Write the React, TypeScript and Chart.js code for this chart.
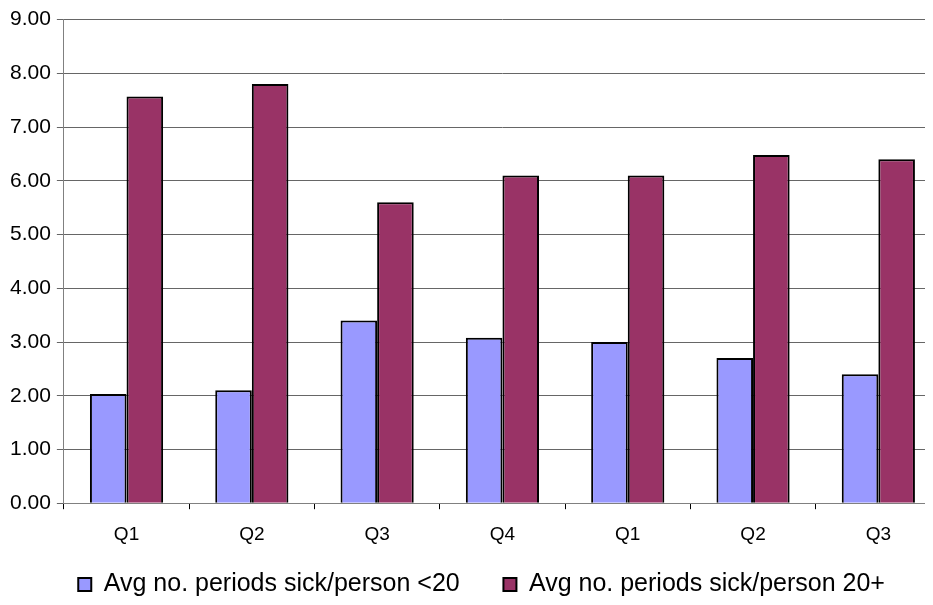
import React, { useEffect, useRef } from "react";
import { Chart, registerables } from "chart.js";

Chart.register(...registerables);

const categories = ["Q1", "Q2", "Q3", "Q4", "Q1", "Q2", "Q3"];
const under20 = [2.03, 2.1, 3.4, 3.08, 3.0, 2.7, 2.4];
const over20 = [7.57, 7.8, 5.6, 6.1, 6.1, 6.48, 6.4];
const seriesLabels = [
  "Avg no. periods sick/person <20",
  "Avg no. periods sick/person 20+",
];

const FONT = "'Liberation Sans', Arial, sans-serif";

export default function App() {
  const ref = useRef<HTMLCanvasElement | null>(null);

  useEffect(() => {
    document.body.style.overflow = "hidden";
    const ctx = ref.current;
    if (!ctx) return;
    const defaultGen = Chart.defaults.plugins.legend.labels.generateLabels;
    const chart = new Chart(ctx, {
      type: "bar",
      data: {
        labels: categories,
        datasets: [
          {
            label: seriesLabels[0],
            data: under20,
            backgroundColor: "#9999FF",
            borderColor: "#000000",
            borderWidth: 2,
            categoryPercentage: 0.584,
            barPercentage: 1,
          },
          {
            label: seriesLabels[1],
            data: over20,
            backgroundColor: "#993366",
            borderColor: "#000000",
            borderWidth: 2,
            categoryPercentage: 0.584,
            barPercentage: 1,
          },
        ],
      },
      options: {
        animation: false,
        responsive: true,
        maintainAspectRatio: false,
        layout: { padding: { left: 0, right: 4, top: 0, bottom: 0 } },
        plugins: {
          tooltip: { enabled: false },
          legend: {
            position: "bottom",
            fullSize: false,
            labels: {
              color: "#000",
              font: { family: FONT, size: 25 },
              boxWidth: 13,
              boxHeight: 13,
              padding: 2,
              generateLabels: (c: any) => {
                const items = defaultGen(c);
                if (items.length > 1) {
                  items[0].text = items[0].text + "      ";
                  items[1].text = items[1].text + "      ";
                }
                return items;
              },
            },
          },
        },
        scales: {
          x: {
            grid: {
              offset: true,
              drawOnChartArea: false,
              drawTicks: true,
              tickLength: 6,
              color: "#000",
            },
            border: { color: "#808080", width: 1 },
            ticks: {
              color: "#000",
              font: { family: FONT, size: 19 },
              padding: 14,
            },
            afterFit: (scale: any) => {
              scale.height += 10;
            },
          },
          y: {
            min: 0,
            max: 9,
            grid: {
              color: "#666666",
              lineWidth: 1,
              drawTicks: true,
              tickLength: 7,
            },
            border: { color: "#808080", width: 1 },
            ticks: {
              stepSize: 1,
              color: "#000",
              font: { family: FONT, size: 21 },
              padding: 6,
              callback: (v: any) => Number(v).toFixed(2),
            },
          },
        },
      },
    });
    return () => chart.destroy();
  }, []);

  return (
    <div style={{ width: "925px", height: "600px", overflow: "hidden", position: "relative" }}>
      <div style={{ width: "941px", height: "606px", position: "absolute", left: "-4px", top: "-7px" }}>
        <canvas ref={ref} />
      </div>
    </div>
  );
}
